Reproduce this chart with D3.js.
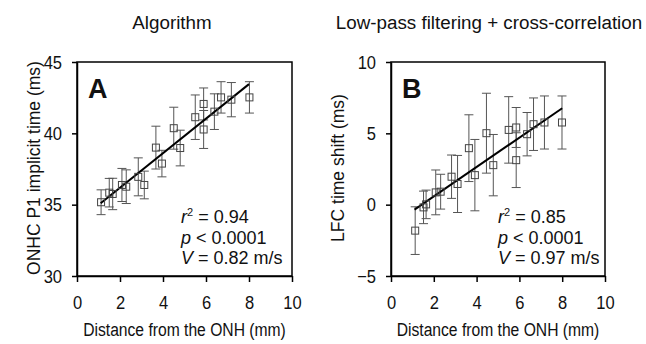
<!DOCTYPE html>
<html>
<head>
<meta charset="utf-8">
<script src="https://cdn.jsdelivr.net/npm/d3@7"></script>
<style>
  body { margin: 0; background: #fff; }
  svg text { font-family: "Liberation Sans", Arial, sans-serif; fill: #111; }
</style>
</head>
<body>
<div id="chart"></div>
<script>
var w = 646;
var h = 344;
var sx = 0.87; // the source figure's text is a bit narrow

// distance from the ONH (mm)
var distA = [1.12, 1.50, 1.66, 2.09, 2.29, 2.85, 3.13, 3.67, 3.95, 4.50, 4.80, 5.50, 5.89, 5.89, 6.39, 6.70, 7.18, 8.02];
// ONHC P1 implicit time (ms) and SD
var timeA = [35.17, 35.84, 35.75, 36.38, 36.26, 36.95, 36.38, 39.0, 37.88, 40.36, 38.97, 41.13, 42.06, 40.27, 41.52, 42.52, 42.36, 42.52];
var errA = [0.87, 1.0, 1.1, 1.16, 1.18, 1.33, 0.97, 1.5, 0.93, 1.47, 1.25, 1.56, 1.12, 1.33, 1.25, 1.1, 1.2, 1.1];
var fitA = [[1.1, 35.1], [8.0, 43.45]];

var distB = [1.13, 1.52, 1.64, 2.09, 2.32, 2.83, 3.11, 3.64, 3.92, 4.46, 4.78, 5.50, 5.85, 5.85, 6.36, 6.66, 7.17, 7.99];
// LFC time shift (ms) and SD
var shiftB = [-1.82, -0.19, 0.02, 0.86, 0.91, 1.96, 1.45, 3.96, 2.07, 5.01, 2.77, 5.24, 5.41, 3.12, 4.94, 5.64, 5.76, 5.76];
var errB = [1.67, 1.14, 1.0, 1.57, 1.22, 1.52, 2.0, 2.34, 2.5, 2.8, 2.15, 2.33, 1.4, 1.92, 1.52, 1.84, 1.86, 1.86];
var fitB = [[1.1, -0.35], [8.0, 6.76]];

var xTicks = [0, 2, 4, 6, 8, 10];
var yTicksA = [30, 35, 40, 45];
var yTicksB = [-5, 0, 5, 10];

var svg = d3.select("#chart")
    .append("svg")
    .attr("width", w)
    .attr("height", h);

function drawPanel(opt) {
    var xScale = d3.scaleLinear().domain([0, 10]).range([opt.left, opt.right]);
    var yScale = d3.scaleLinear().domain(opt.yDomain).range([276, 62]);
    var g = svg.append("g");

    // title
    g.append("text")
        .attr("x", opt.titleX)
        .attr("y", 29)
        .attr("text-anchor", "middle")
        .attr("font-size", "18.8px")
        .text(opt.title);

    // box
    g.append("rect")
        .attr("x", opt.left)
        .attr("y", 62)
        .attr("width", opt.right - opt.left)
        .attr("height", 276 - 62)
        .attr("fill", "none")
        .attr("stroke", "#000")
        .attr("stroke-width", 1.5);

    var xAxis = d3.axisBottom(xScale)
        .tickValues(xTicks)
        .tickSize(6)
        .tickSizeOuter(0)
        .tickPadding(14);
    var gx = g.append("g")
        .attr("transform", "translate(0,276)")
        .call(xAxis);
    var yAxis = d3.axisLeft(yScale)
        .tickValues(opt.yTicks)
        .tickSize(5)
        .tickSizeOuter(0)
        .tickPadding(10);
    var gy = g.append("g")
        .attr("transform", "translate(" + opt.left + ",0)")
        .call(yAxis);
    [gx, gy].forEach(function (a) {
        a.selectAll("path, line").attr("stroke", "#000").attr("stroke-width", 1.5);
        a.selectAll("text")
            .attr("font-size", "19px")
            .attr("font-family", "Liberation Sans, Arial, sans-serif")
            .attr("fill", "#111")
            .attr("transform", "scale(" + sx + ",1)");
    });
    gy.selectAll("text").attr("x", -15 / sx);

    // axis labels
    g.append("text")
        .attr("transform", "translate(" + (opt.left + opt.right) / 2 + ",336) scale(" + sx + ",1)")
        .attr("text-anchor", "middle")
        .attr("font-size", "18px")
        .text("Distance from the ONH (mm)");
    g.append("text")
        .attr("transform", "translate(" + opt.yLabelX + ",168) rotate(-90)")
        .attr("text-anchor", "middle")
        .attr("font-size", "17.5px")
        .text(opt.yLabel);

    var pts = opt.xs.map(function (d, i) {
        return { x: d, y: opt.ys[i], e: opt.es[i] };
    });

    // error bars
    var eb = g.append("g").attr("stroke", "#555").attr("stroke-width", 1);
    eb.selectAll(".v").data(pts).enter().append("line")
        .attr("x1", function (d) { return xScale(d.x); })
        .attr("x2", function (d) { return xScale(d.x); })
        .attr("y1", function (d) { return yScale(d.y - d.e); })
        .attr("y2", function (d) { return yScale(d.y + d.e); });
    [-1, 1].forEach(function (s) {
        eb.selectAll(".c" + s).data(pts).enter().append("line")
            .attr("x1", function (d) { return xScale(d.x) - 4.5; })
            .attr("x2", function (d) { return xScale(d.x) + 4.5; })
            .attr("y1", function (d) { return yScale(d.y + s * d.e); })
            .attr("y2", function (d) { return yScale(d.y + s * d.e); });
    });

    // regression line
    g.append("path")
        .datum(opt.fit)
        .attr("d", d3.line()
            .x(function (d) { return xScale(d[0]); })
            .y(function (d) { return yScale(d[1]); }))
        .attr("stroke", "#000")
        .attr("stroke-width", 2)
        .attr("fill", "none");

    // open squares
    g.selectAll(".pt").data(pts).enter().append("rect")
        .attr("x", function (d) { return xScale(d.x) - 3.5; })
        .attr("y", function (d) { return yScale(d.y) - 3.5; })
        .attr("width", 7)
        .attr("height", 7)
        .attr("fill", "none")
        .attr("stroke", "#444")
        .attr("stroke-width", 1);

    // panel letter
    g.append("text")
        .attr("x", opt.left + 11)
        .attr("y", 98)
        .attr("font-size", "27px")
        .attr("font-weight", "bold")
        .text(opt.letter);

    // stats
    var st = g.append("g").attr("font-size", "18px");
    var t1 = st.append("text").attr("x", opt.statX).attr("y", 223);
    t1.append("tspan").attr("font-style", "italic").text("r");
    t1.append("tspan").attr("font-size", "11px").attr("dy", -7).text("2");
    t1.append("tspan").attr("dy", 7).text(" = " + opt.r2);
    var t2 = st.append("text").attr("x", opt.statX).attr("y", 244);
    t2.append("tspan").attr("font-style", "italic").text("p");
    t2.append("tspan").text(" < 0.0001");
    var t3 = st.append("text").attr("x", opt.statX).attr("y", 264);
    t3.append("tspan").attr("font-style", "italic").text("V");
    t3.append("tspan").text(" = " + opt.v + " m/s");
}

drawPanel({
    left: 77, right: 292, yDomain: [30, 45], yTicks: yTicksA,
    title: "Algorithm", titleX: 172,
    yLabel: "ONHC P1 implicit time (ms)", yLabelX: 40,
    xs: distA, ys: timeA, es: errA, fit: fitA,
    letter: "A", statX: 181, r2: "0.94", v: "0.82"
});

drawPanel({
    left: 391, right: 605, yDomain: [-5, 10], yTicks: yTicksB,
    title: "Low-pass filtering + cross-correlation", titleX: 489,
    yLabel: "LFC time shift (ms)", yLabelX: 344,
    xs: distB, ys: shiftB, es: errB, fit: fitB,
    letter: "B", statX: 498, r2: "0.85", v: "0.97"
});
</script>
</body>
</html>
